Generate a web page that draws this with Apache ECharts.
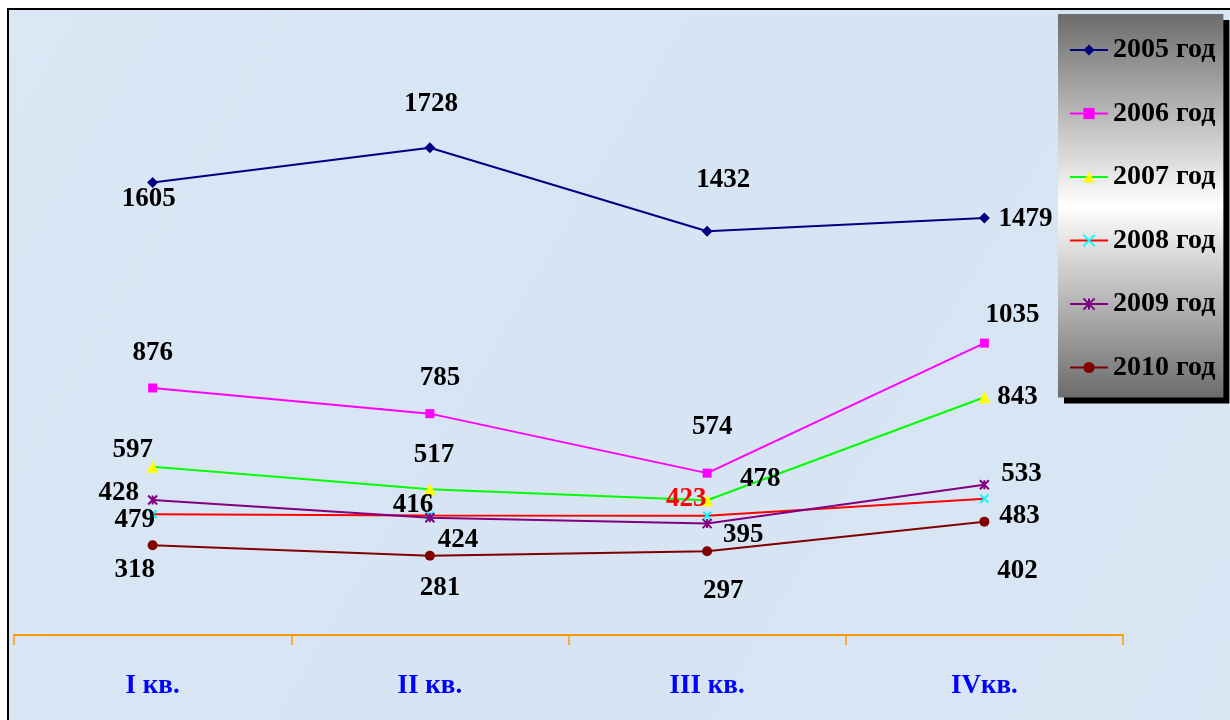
<!DOCTYPE html>
<html><head><meta charset="utf-8">
<script src="https://cdn.jsdelivr.net/npm/echarts@6/dist/echarts.min.js"></script>
<style>html,body{margin:0;padding:0;background:#fff;}#chart{width:1230px;height:720px;}</style>
</head><body><div id="chart"></div>
<script>
// ---- data ----
const categories = ['I кв.', 'II кв.', 'III кв.', 'IVкв.'];
const seriesNames = ['2005 год', '2006 год', '2007 год', '2008 год', '2009 год', '2010 год'];
const v2005 = [1605, 1728, 1432, 1479];
const v2006 = [876, 785, 574, 1035];
const v2007 = [597, 517, 478, 843];
const v2008 = [428, 424, 423, 483];
const v2009 = [479, 416, 395, 533];
const v2010 = [318, 281, 297, 402];

// ---- styling (label offsets from point, px) ----
const labelOffsets = [
  [[-4, 17], [1, -44], [16, -51], [41, 1]],
  [[0, -35], [10, -36], [5, -46], [28, -28]],
  [[-20, -17], [4, -34], [53, -21], [33, 0]],
  [[-34, -21], [28, 25], [-21, -17], [35, 17]],
  [[-18, 20], [-17, -13], [36, 11], [37, -11]],
  [[-18, 25], [10, 32], [16, 40], [33, 49]]
];
const labelColors = [
  ['#000', '#000', '#000', '#000'],
  ['#000', '#000', '#000', '#000'],
  ['#000', '#000', '#000', '#000'],
  ['#000', '#000', '#ff0000', '#000'],
  ['#000', '#000', '#000', '#000'],
  ['#000', '#000', '#000', '#000']
];
const styles = [
  {line: '#000080', sym: 'diamond', size: 11, fill: '#000080'},
  {line: '#ff00ff', sym: 'rect', size: 9, fill: '#ff00ff'},
  {line: '#00ff00', sym: 'triangle', size: 12, fill: '#ffff00'},
  {line: '#ff0000', sym: 'path://M0,0L10,10M10,0L0,10', size: 8, fill: '#00ffff', stroke: true},
  {line: '#800080', sym: 'path://M0,0L10,10M10,0L0,10M5,0L5,10', size: 9, fill: '#800080', stroke: true},
  {line: '#800000', sym: 'circle', size: 10, fill: '#800000'}
];
const values = [v2005, v2006, v2007, v2008, v2009, v2010];
const FONT = '"Liberation Serif", "Times New Roman", serif';

const series = values.map((vals, i) => {
  const st = styles[i];
  return {
    name: seriesNames[i],
    type: 'line',
    data: vals.map((v, j) => ({
      value: v,
      label: {offset: labelOffsets[i][j], color: labelColors[i][j]}
    })),
    symbol: st.sym,
    symbolSize: st.size,
    showAllSymbol: true,
    lineStyle: {color: st.line, width: 2},
    itemStyle: st.stroke ? {color: st.fill, borderColor: st.fill, borderWidth: 2} : {color: st.fill, borderWidth: 0},
    label: {
      show: true, position: 'inside', fontFamily: FONT, fontWeight: 'bold', fontSize: 27, color: '#000'
    },
    emphasis: {disabled: true},
    animation: false,
    z: 3 + i
  };
});

const chart = echarts.init(document.getElementById('chart'), null, {renderer: 'canvas'});
chart.setOption({
  animation: false,
  backgroundColor: '#ffffff',
  graphic: [{
    type: 'rect', z: -10, silent: true,
    shape: {x: 8, y: 9, width: 1240, height: 730},
    style: {
      fill: new echarts.graphic.LinearGradient(0, 0, 1, 1, [
        {offset: 0, color: '#dbe7f5'}, {offset: 0.5, color: '#d6e4f3'}, {offset: 1, color: '#dae6f4'}
      ]),
      stroke: '#000', lineWidth: 2
    }
  }],
  grid: {left: 14, right: 107, top: 71, bottom: 85},
  xAxis: {
    type: 'category', data: categories, boundaryGap: true,
    axisLine: {lineStyle: {color: '#ff9900', width: 2}},
    axisTick: {show: true, length: 10, lineStyle: {color: '#ff9900', width: 1.5}},
    axisLabel: {color: '#0000ff', fontFamily: FONT, fontWeight: 'bold', fontSize: 27, margin: 38},
    splitLine: {show: false}
  },
  yAxis: {type: 'value', min: 0, max: 2000, show: false, splitLine: {show: false}},
  legend: {
    orient: 'vertical', left: 1058, top: 14,
    padding: [21, 8, 15, 11],
    itemWidth: 38, itemHeight: 14, itemGap: 33.5,
    data: seriesNames,
    textStyle: {fontFamily: FONT, fontWeight: 'bold', fontSize: 28, color: '#000', lineHeight: 30},
    backgroundColor: new echarts.graphic.LinearGradient(0, 0, 0, 1, [
      {offset: 0, color: '#6c6c6c'}, {offset: 0.5, color: '#ffffff'}, {offset: 1, color: '#6c6c6c'}
    ]),
    shadowColor: '#000', shadowBlur: 0, shadowOffsetX: 6, shadowOffsetY: 6
  },
  series: series
});
</script></body></html>
